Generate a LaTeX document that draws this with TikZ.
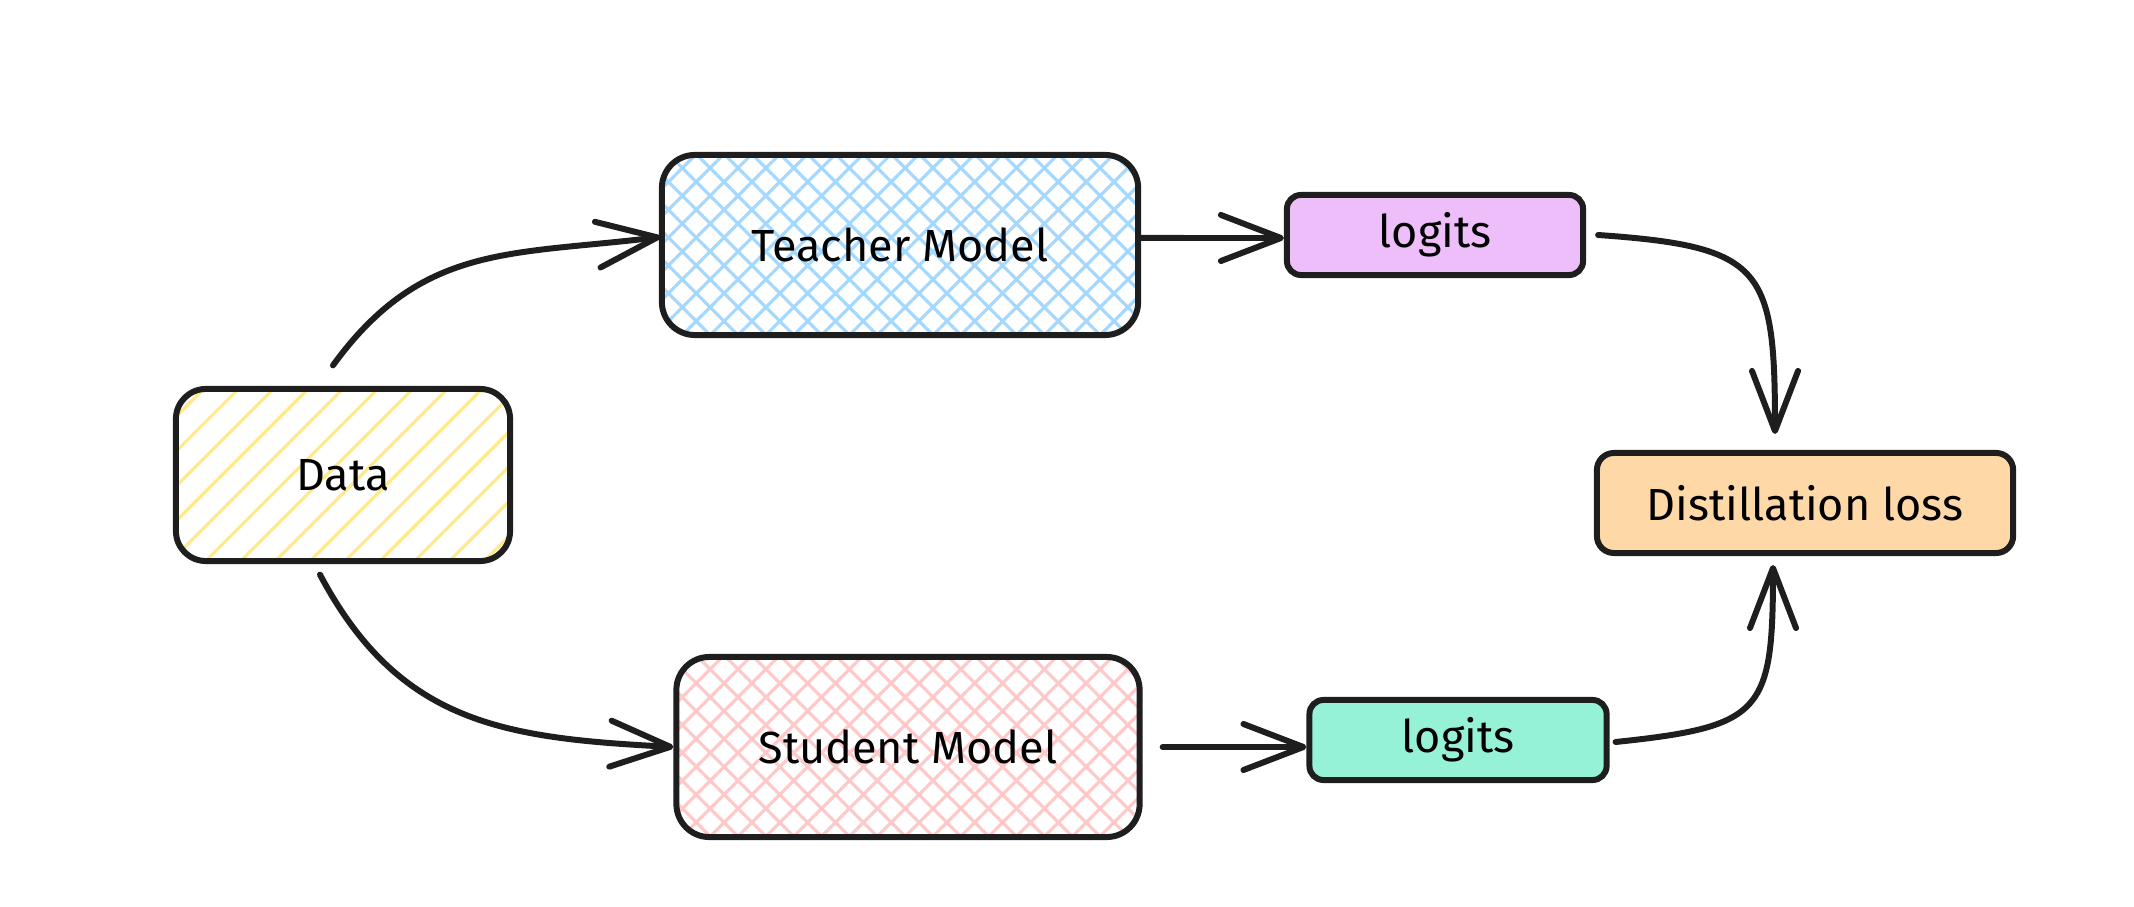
\documentclass[tikz,border=0pt]{standalone}
\usepackage{fontspec}
\setmainfont{Fira Sans}
\usetikzlibrary{arrows.meta,patterns.meta}
\definecolor{ink}{HTML}{1E1E1E}
\definecolor{hatchyellow}{HTML}{FFE98A}
\definecolor{hatchblue}{HTML}{A5D8FF}
\definecolor{hatchred}{HTML}{FFC9C9}
\definecolor{logitpurple}{HTML}{EEBEFA}
\definecolor{logitgreen}{HTML}{96F2D7}
\definecolor{lossorange}{HTML}{FFD8A8}
\begin{document}
\begin{tikzpicture}[x=0.01cm, y=0.01cm, line width=1.7pt,
  box/.style={draw=ink, rounded corners=0.3cm, inner sep=0pt,
    font=\fontsize{12.8}{15}\selectfont},
  small box/.style={box, rounded corners=0.14cm, minimum height=0.8cm},
  flow/.style={draw=ink, line cap=round,
    -{Straight Barb[length=0.6cm, width=0.46cm, round]}}]
  \useasboundingbox (0,0) rectangle (2134,906);
  % boxes
  \node[box, minimum width=3.34cm, minimum height=1.72cm,
    pattern={Lines[angle=45, distance=7pt, line width=0.9pt]},
    pattern color=hatchyellow] (data) at (343,431) {Data};
  \node[box, rounded corners=0.33cm, minimum width=4.76cm, minimum height=1.8cm,
    pattern={Hatch[angle=45, distance=5.6pt, line width=0.9pt]},
    pattern color=hatchblue] (teacher) at (900,661) {Teacher Model};
  \node[box, rounded corners=0.33cm, minimum width=4.63cm, minimum height=1.8cm,
    pattern={Hatch[angle=45, distance=5.6pt, line width=0.9pt]},
    pattern color=hatchred] (student) at (908,159) {Student Model};
  \node[small box, fill=logitpurple, minimum width=2.96cm] (tlogits) at (1435,671) {logits};
  \node[small box, fill=logitgreen, minimum width=2.97cm] (slogits) at (1458,166) {logits};
  \node[box, rounded corners=0.17cm, fill=lossorange, minimum width=4.16cm,
    minimum height=1cm] (loss) at (1805,403) {Distillation loss};
  % arrows
  \draw[flow] ([xshift=-0.10cm, yshift=0.22cm]data.north) to[out=54, in=187, looseness=1.1]
    ([yshift=0.08cm]teacher.west);
  \draw[flow] ([xshift=-0.23cm, yshift=-0.12cm]data.south) to[out=-62, in=177, looseness=1.1]
    (student.west);
  \draw[flow] ([yshift=0.07cm]teacher.east) -- ([yshift=-0.03cm]tlogits.west);
  \draw[flow] ([xshift=0.2cm]student.east) -- ([yshift=-0.07cm]slogits.west);
  \draw[flow] ([xshift=0.12cm]tlogits.east) to[out=-4, in=90, looseness=1.6]
    ([xshift=-0.30cm, yshift=0.16cm]loss.north);
  \draw[flow] ([xshift=0.06cm, yshift=-0.02cm]slogits.east) to[out=6, in=-90, looseness=1.6]
    ([xshift=-0.32cm, yshift=-0.09cm]loss.south);
\end{tikzpicture}
\end{document}
